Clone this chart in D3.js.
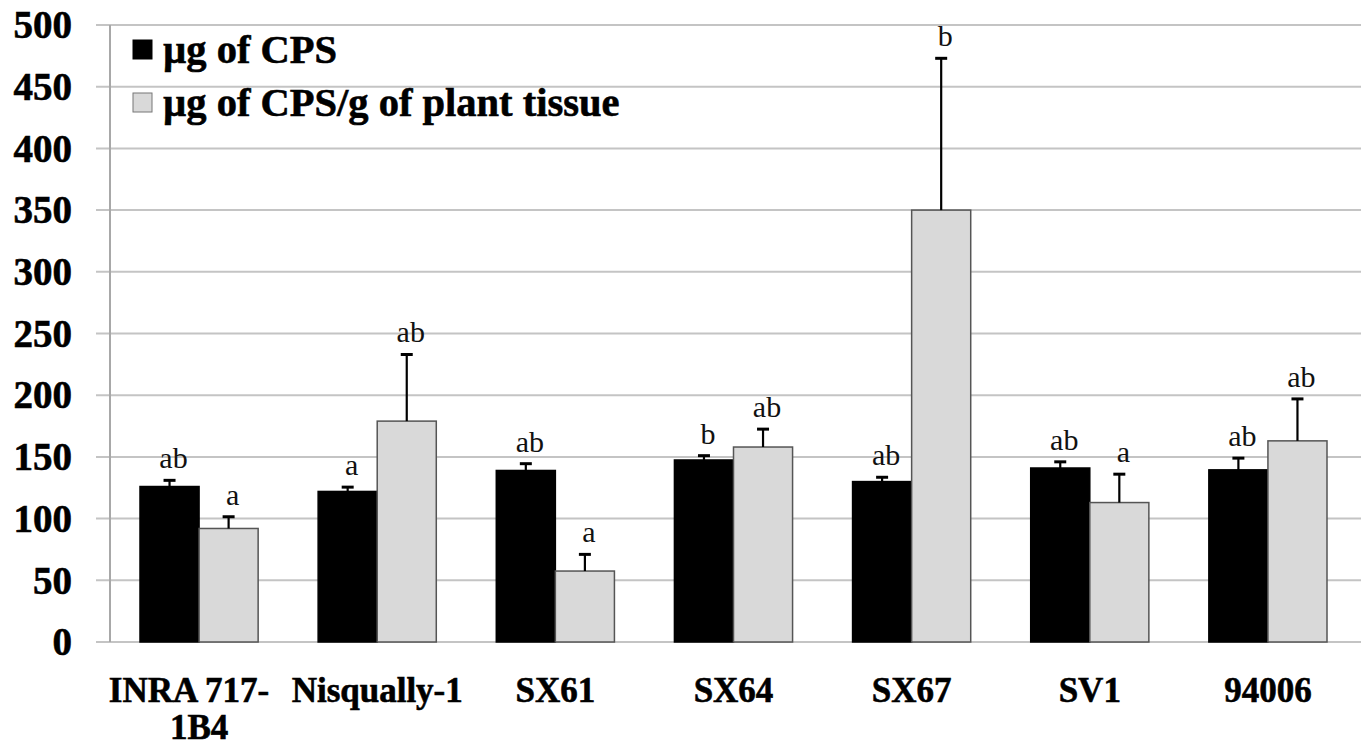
<!DOCTYPE html>
<html>
<head>
<meta charset="utf-8">
<script src="https://cdn.jsdelivr.net/npm/d3@7"></script>
<style>
  body { margin: 0; background: #fff; }
  svg { display: block; }
  text { font-family: "Times New Roman", "Liberation Serif", "DejaVu Serif", serif; }
  .bold { font-weight: bold; stroke: #000; stroke-width: 0.6px; }
</style>
</head>
<body>
<div id="chart"></div>
<script>
// categories and series
var lines = [["INRA 717-", "1B4"], ["Nisqually-1"], ["SX61"], ["SX64"], ["SX67"], ["SV1"], ["94006"]];
var categories = ["INRA 717-1B4", "Nisqually-1", "SX61", "SX64", "SX67", "SV1", "94006"];
var series = ["µg of CPS", "µg of CPS/g of plant tissue"];
var cps = [126, 122, 139, 147.5, 130, 141, 139.5];
var cpsErr = [5, 3.5, 5.5, 3.5, 3.5, 5, 9.5];
var cpsTissue = [92, 179, 57.5, 158, 350, 113, 163];
var cpsTissueErr = [9.5, 54, 13.5, 14.5, 123, 23, 34];
var cpsLetters = ["ab", "a", "ab", "b", "ab", "ab", "ab"];
var tissueLetters = ["a", "ab", "a", "ab", "b", "a", "ab"];
var yTicks = [0, 50, 100, 150, 200, 250, 300, 350, 400, 450, 500];

var width = 1361, height = 749;
var colors = ["#000000", "#d9d9d9"];

var svg = d3.select("#chart").append("svg")
    .attr("width", width)
    .attr("height", height);

var y = d3.scaleLinear().domain([0, 500]).range([642, 25]);

var x0 = d3.scaleBand()
    .domain(categories)
    .range([110, 1357])
    .paddingInner(0)
    .paddingOuter(0);

var x1 = d3.scaleBand()
    .domain(series)
    .range([30, x0.bandwidth() - 30]);

// gridlines
svg.append("g").selectAll("line")
    .data(yTicks)
    .enter().append("line")
    .attr("x1", 96).attr("x2", width)
    .attr("y1", function (d) { return y(d); })
    .attr("y2", function (d) { return y(d); })
    .attr("stroke", "#c4c4c4")
    .attr("stroke-width", 2);

// y axis line
svg.append("line")
    .attr("x1", 110).attr("x2", 110)
    .attr("y1", y(500)).attr("y2", y(0))
    .attr("stroke", "#a8a8a8")
    .attr("stroke-width", 2);

// y tick labels
svg.append("g").selectAll("text")
    .data(yTicks)
    .enter().append("text")
    .attr("class", "bold")
    .attr("x", 72)
    .attr("y", function (d) { return y(d); })
    .attr("dy", "0.34em")
    .attr("text-anchor", "end")
    .style("font-size", "39px")
    .text(function (d) { return d; });

var data = categories.map(function (c, i) {
    return [
        { cat: c, s: series[0], v: cps[i], e: cpsErr[i], l: cpsLetters[i] },
        { cat: c, s: series[1], v: cpsTissue[i], e: cpsTissueErr[i], l: tissueLetters[i] }
    ];
});

var groups = svg.append("g").selectAll("g")
    .data(data)
    .enter().append("g")
    .attr("transform", function (d, i) { return "translate(" + x0(categories[i]) + ",0)"; });

var bars = groups.selectAll("g")
    .data(function (d) { return d; })
    .enter().append("g");

bars.append("rect")
    .attr("x", function (d) { return x1(d.s); })
    .attr("y", function (d) { return y(d.v); })
    .attr("width", x1.bandwidth())
    .attr("height", function (d) { return y(0) - y(d.v); })
    .attr("fill", function (d, i) { return colors[i]; })
    .attr("stroke", function (d, i) { return i ? "#555" : "#000"; })
    .attr("stroke-width", 1.5);

// upper error bars
bars.append("line")
    .attr("x1", function (d) { return x1(d.s) + x1.bandwidth() / 2; })
    .attr("x2", function (d) { return x1(d.s) + x1.bandwidth() / 2; })
    .attr("y1", function (d) { return y(d.v); })
    .attr("y2", function (d) { return y(d.v + d.e); })
    .attr("stroke", "#000")
    .attr("stroke-width", 2.2);

bars.append("line")
    .attr("x1", function (d) { return x1(d.s) + x1.bandwidth() / 2 - 6; })
    .attr("x2", function (d) { return x1(d.s) + x1.bandwidth() / 2 + 6; })
    .attr("y1", function (d) { return y(d.v + d.e); })
    .attr("y2", function (d) { return y(d.v + d.e); })
    .attr("stroke", "#000")
    .attr("stroke-width", 3);

bars.append("text")
    .attr("x", function (d) { return x1(d.s) + x1.bandwidth() / 2 + 4; })
    .attr("y", function (d) { return y(d.v + d.e) - 12; })
    .attr("text-anchor", "middle")
    .style("font-size", "30px")
    .attr("fill", "#111")
    .text(function (d) { return d.l; });

// x labels
var xl = svg.append("g").selectAll("text")
    .data(lines)
    .enter().append("text")
    .attr("class", "bold")
    .attr("x", function (d, i) { return x0(categories[i]) + x0.bandwidth() / 2; })
    .attr("y", 702)
    .attr("text-anchor", "middle")
    .style("font-size", "35px");

xl.selectAll("tspan")
    .data(function (d) { return d; })
    .enter().append("tspan")
    .attr("x", function () { return d3.select(this.parentNode).attr("x"); })
    .attr("dx", function (d, i, n) { return n.length > 1 && i === 0 ? -10 : 0; })
    .attr("dy", function (d, i) { return i ? 37 : 0; })
    .text(function (d) { return d; });

// legend
var legend = svg.append("g").selectAll("g")
    .data(series)
    .enter().append("g")
    .attr("transform", function (d, i) { return "translate(133," + (40 + i * 53) + ")"; });

legend.append("rect")
    .attr("width", 19).attr("height", 19)
    .attr("fill", function (d, i) { return colors[i]; })
    .attr("stroke", function (d, i) { return i ? "#777" : "#000"; })
    .attr("stroke-width", 1);

legend.append("text")
    .attr("class", "bold")
    .attr("x", 30)
    .attr("y", 23)
    .style("font-size", "40.5px")
    .text(function (d) { return d; });
</script>
</body>
</html>
